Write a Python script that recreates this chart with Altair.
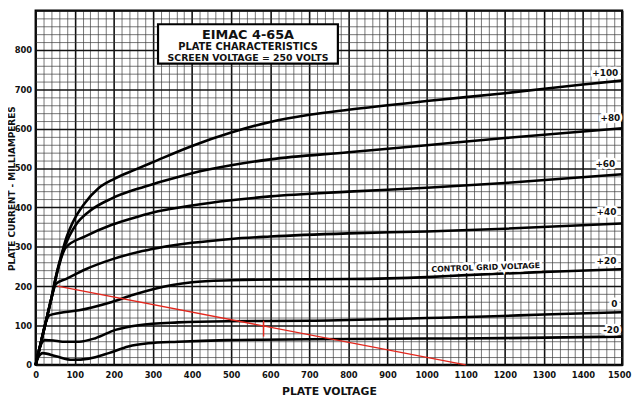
import altair as alt
import pandas as pd

# ---- curve data (plate voltage V, plate current mA) ----
curve_names = ["+100", "+80", "+60", "+40", "+20", "0", "-20"]

v_p100 = [0, 10, 25, 40, 52, 65, 77, 94, 125, 160, 200, 250, 300, 400, 500, 600, 700, 800, 1000, 1200, 1400, 1500]
i_p100 = [0, 42, 105, 168, 226, 276, 318, 360, 410, 448, 472, 494, 515, 556, 590, 617, 635, 648, 670, 690, 712, 722]

v_p80 = [0, 10, 25, 40, 55, 70, 85, 103, 136, 195, 263, 313, 400, 500, 600, 800, 1000, 1200, 1500]
i_p80 = [0, 42, 105, 168, 235, 290, 325, 356, 389, 423, 448, 463, 487, 507, 522, 540, 558, 576, 601]

v_p60 = [0, 10, 25, 40, 55, 77, 128, 195, 263, 313, 400, 500, 600, 800, 1000, 1200, 1500]
i_p60 = [0, 42, 105, 168, 235, 298, 327, 356, 377, 390, 405, 418, 428, 440, 450, 462, 484]

v_p40 = [0, 10, 25, 40, 52, 77, 128, 195, 263, 313, 400, 500, 600, 800, 1000, 1200, 1500]
i_p40 = [0, 42, 105, 168, 206, 218, 243, 268, 287, 297, 310, 320, 326, 334, 339, 346, 359]

v_p20 = [0, 10, 25, 35, 60, 111, 195, 250, 300, 350, 400, 500, 600, 800, 1000, 1100, 1300, 1500]
i_p20 = [0, 42, 105, 126, 132, 139, 160, 178, 192, 203, 210, 215, 217, 218, 223, 228, 236, 243]

v_0 = [0, 8, 23, 45, 69, 111, 153, 204, 263, 364, 490, 700, 800, 1000, 1150, 1300, 1500]
i_0 = [0, 35, 63, 62, 59, 59, 68, 89, 101, 108, 111, 112, 114, 119, 123, 128, 134]

v_m20 = [0, 8, 18, 52, 94, 136, 187, 237, 288, 364, 490, 700, 1000, 1200, 1500]
i_m20 = [0, 22, 30, 22, 13, 16, 30, 47, 55, 59, 63, 65, 67, 68, 72]

# load line and operating point marker
load_v = [56, 1100]
load_i = [200, 0]
op_v = [583]
op_i_low = [72]
op_i_high = [112]

# labels
label_text = ["+100", "+80", "+60", "+40", "+20", "0", "-20", "CONTROL GRID VOLTAGE"]
label_v = [1457, 1470, 1457, 1460, 1460, 1480, 1472, 1151]
label_i = [742, 627, 511, 389, 263, 155, 88, 246]
label_size = [9, 9, 9, 9, 9, 9, 9, 8]
label_angle = [0, 0, 0, 0, 0, 0, 0, 358]

title_lines = ["EIMAC 4-65A", "PLATE CHARACTERISTICS", "SCREEN VOLTAGE = 250 VOLTS"]
title_v = [543, 543, 543]
title_i = [837, 807, 780]
title_size = [13, 10, 9.5]
box_v = [313]
box_v2 = [773]
box_i = [765]
box_i2 = [865]

x_ticks = list(range(0, 1501, 20))
y_ticks = list(range(0, 901, 20))

# ---- tables ----
rows = []
for name, vs, cs in zip(curve_names,
                        [v_p100, v_p80, v_p60, v_p40, v_p20, v_0, v_m20],
                        [i_p100, i_p80, i_p60, i_p40, i_p20, i_0, i_m20]):
    for v, c in zip(vs, cs):
        rows.append({"curve": name, "v": v, "i": c})
curves_df = pd.DataFrame(rows)
load_df = pd.DataFrame({"v": load_v, "i": load_i})
op_df = pd.DataFrame({"v": op_v, "i": op_i_low, "i2": op_i_high})
lab_df = pd.DataFrame({"t": label_text, "v": label_v, "i": label_i,
                       "fs": label_size, "ang": label_angle})
tit_df = pd.DataFrame({"t": title_lines, "v": title_v, "i": title_i, "fs": title_size})
box_df = pd.DataFrame({"v": box_v, "v2": box_v2, "i": box_i, "i2": box_i2})

FONT = "DejaVu Sans"
x_scale = alt.Scale(domain=[0, 1500], nice=False, zero=False)
y_scale = alt.Scale(domain=[0, 900], nice=False, zero=False)

grid_w = {"condition": {"test": "datum.value % 100 === 0", "value": 1.6}, "value": 0.7}
grid_c = {"condition": {"test": "datum.value % 100 === 0", "value": "#111111"}, "value": "#3a3a3a"}

x_axis = alt.Axis(
    values=x_ticks, tickCount=500, format="d",
    labelExpr="datum.value % 100 === 0 ? datum.label : ''",
    labelOverlap=False, labelFlush=False,
    labelOffset={"condition": {"test": "datum.value === 1500", "value": -3}, "value": 0},
    grid=True, gridWidth=grid_w, gridColor=grid_c, gridOpacity=1,
    ticks=False, domain=False,
    labelFont=FONT, labelFontWeight="bold", labelFontSize=8.5, labelColor="#111",
    labelPadding=6,
    title="PLATE VOLTAGE", titleFont=FONT, titleFontWeight="bold", titleFontSize=11,
    titleColor="#111", titleY=30, titleBaseline="alphabetic",
)
y_axis = alt.Axis(
    values=y_ticks, tickCount=500, format="d",
    labelExpr="(datum.value % 100 === 0 && datum.value < 900) ? datum.label : ''",
    labelOverlap=False, labelFlush=False,
    grid=True, gridWidth=grid_w, gridColor=grid_c, gridOpacity=1,
    ticks=False, domain=False,
    labelFont=FONT, labelFontWeight="bold", labelFontSize=8.5, labelColor="#111",
    labelPadding=4,
    title="PLATE CURRENT - MILLIAMPERES", titleFont=FONT, titleFontWeight="bold",
    titleFontSize=9, titleColor="#111", titleX=-28, titleY=180,
    titleBaseline="top", titleAngle=270,
)

base_x = alt.X("v:Q", scale=x_scale, axis=x_axis)
base_y = alt.Y("i:Q", scale=y_scale, axis=y_axis)

curves = alt.Chart(curves_df).mark_line(
    color="black", strokeWidth=2.6, interpolate="monotone"
).encode(x=base_x, y=base_y, detail="curve:N")

load = alt.Chart(load_df).mark_line(color="#e3261c", strokeWidth=1.4).encode(
    x=alt.X("v:Q"), y=alt.Y("i:Q"))

op = alt.Chart(op_df).mark_rule(color="#e3261c", strokeWidth=1.4).encode(
    x=alt.X("v:Q"), y=alt.Y("i:Q"), y2="i2:Q")

halo = alt.Chart(lab_df).mark_text(
    font=FONT, fontWeight="bold", color="white", stroke="white", strokeWidth=5,
    align="center", baseline="middle"
).encode(x=alt.X("v:Q"), y=alt.Y("i:Q"), text="t:N",
         size=alt.Size("fs:Q", scale=None, legend=None),
         angle=alt.Angle("ang:Q", scale=None, legend=None))

labels = alt.Chart(lab_df).mark_text(
    font=FONT, fontWeight="bold", color="#111",
    align="center", baseline="middle"
).encode(x=alt.X("v:Q"), y=alt.Y("i:Q"), text="t:N",
         size=alt.Size("fs:Q", scale=None, legend=None),
         angle=alt.Angle("ang:Q", scale=None, legend=None))

box = alt.Chart(box_df).mark_rect(fill="white", stroke="black", strokeWidth=2.2).encode(
    x=alt.X("v:Q"), x2="v2:Q", y=alt.Y("i:Q"), y2="i2:Q")

titles = alt.Chart(tit_df).mark_text(
    font=FONT, fontWeight="bold", color="#111", align="center", baseline="middle"
).encode(x=alt.X("v:Q"), y=alt.Y("i:Q"), text="t:N",
         size=alt.Size("fs:Q", scale=None, legend=None))

chart = alt.layer(curves, load, op, halo, labels, box, titles).properties(
    width=594, height=359,
    autosize=alt.AutoSizeParams(type="none"),
    padding={"left": 28, "top": 0, "right": 10, "bottom": 33},
    background="white",
).configure_view(stroke="black", strokeWidth=2.2)

chart.save("out.html", embed_options={"renderer": "svg", "actions": False})
